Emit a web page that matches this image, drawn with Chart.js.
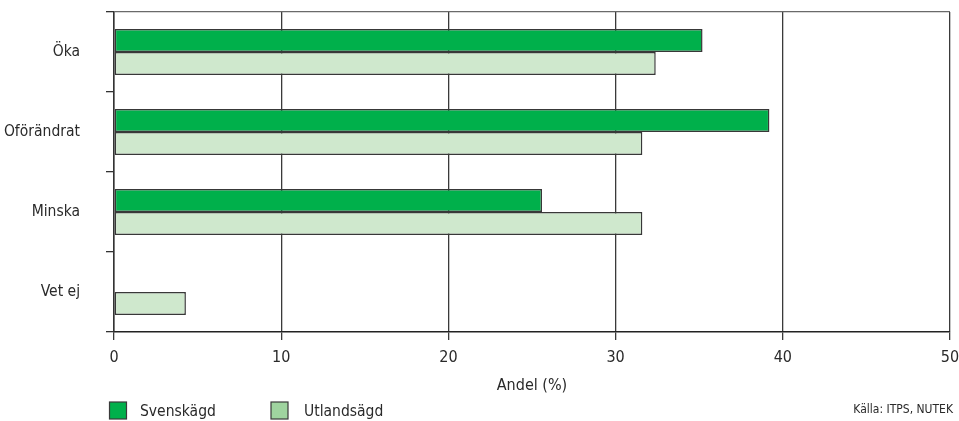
<!DOCTYPE html>
<html>
<head>
<meta charset="utf-8">
<script src="https://cdn.jsdelivr.net/npm/chart.js@4"></script>
<style>
  html, body { margin: 0; padding: 0; background: #ffffff; }
  #wrap { position: relative; width: 959px; height: 421px; }
</style>
</head>
<body>
<div id="wrap"><canvas id="c" width="959" height="421"></canvas></div>
<script>
const categories = ['Öka', 'Oförändrat', 'Minska', 'Vet ej'];
const svenskagd = [35.2, 39.2, 25.6, null];
const utlandsagd = [32.4, 31.6, 31.6, 4.3];
const seriesNames = ['Svenskägd', 'Utlandsägd'];
const xTickValues = [0, 10, 20, 30, 40, 50];
const axisTitle = 'Andel (%)';
const sourceText = 'Källa: ITPS, NUTEK';

const FONT = "'Liberation Sans Narrow', 'DejaVu Sans Condensed', 'Arial Narrow', sans-serif";
const TEXT = '#2a2a2a';
const barFills = ['#00b04b', '#cfe8cd'];
const legendFills = ['#00b04b', '#9fd49f'];

const legendPlugin = {
  id: 'customLegend',
  afterDraw(chart) {
    const ctx = chart.ctx;
    ctx.save();
    const boxes = [{ x: 109.5, tx: 140 }, { x: 271, tx: 304 }];
    ctx.font = '15.5px ' + FONT;
    ctx.textBaseline = 'middle';
    ctx.textAlign = 'left';
    seriesNames.forEach((name, i) => {
      ctx.fillStyle = legendFills[i];
      ctx.fillRect(boxes[i].x, 402, 17, 17);
      ctx.strokeStyle = '#3a3a3a';
      ctx.lineWidth = 1.2;
      ctx.strokeRect(boxes[i].x, 402, 17, 17);
      ctx.fillStyle = TEXT;
      ctx.fillText(name, boxes[i].tx, 411.5);
    });
    ctx.font = '12px ' + FONT;
    ctx.textAlign = 'right';
    ctx.fillText(sourceText, 953, 410);
    ctx.restore();
  }
};

new Chart(document.getElementById('c'), {
  type: 'bar',
  data: {
    labels: categories,
    datasets: [
      { label: seriesNames[0], data: svenskagd, backgroundColor: barFills[0] },
      { label: seriesNames[1], data: utlandsagd, backgroundColor: barFills[1] }
    ]
  },
  options: {
    indexAxis: 'y',
    responsive: false,
    animation: false,
    devicePixelRatio: 1,
    layout: { padding: { top: 12, right: 9, left: 0, bottom: 0 } },
    datasets: {
      bar: {
        categoryPercentage: 0.575,
        barPercentage: 1,
        borderColor: '#383838',
        borderWidth: 1.5,
        borderSkipped: false
      }
    },
    plugins: {
      legend: { display: false },
      tooltip: { enabled: false },
      title: { display: false }
    },
    scales: {
      x: {
        type: 'linear',
        min: xTickValues[0],
        max: xTickValues[xTickValues.length - 1],
        afterBuildTicks(scale) {
          scale.ticks = xTickValues.map(v => ({ value: v }));
        },
        afterFit(scale) {
          scale.height = 89;
          scale.paddingLeft = 0;
          scale.paddingRight = 0;
        },
        ticks: {
          color: TEXT,
          font: { family: FONT, size: 16 },
          padding: 8,
          maxRotation: 0
        },
        grid: {
          color: '#3a3a3a',
          lineWidth: 1.3,
          tickLength: 8,
          drawTicks: true
        },
        border: { display: true, color: '#222', width: 1.5 },
        title: {
          display: true,
          text: axisTitle,
          color: TEXT,
          font: { family: FONT, size: 16 },
          padding: { top: 4, bottom: 26 }
        }
      },
      y: {
        type: 'category',
        afterFit(scale) {
          scale.width = 114;
          scale.paddingTop = 0;
          scale.paddingBottom = 0;
        },
        ticks: {
          color: TEXT,
          font: { family: FONT, size: 15.5 },
          padding: 26
        },
        grid: {
          offset: true,
          drawOnChartArea: true,
          drawTicks: true,
          tickLength: 8,
          lineWidth: 1.3,
          color: (c) => (c.index === 0 ? '#6a6a6a' : 'rgba(0,0,0,0)'),
          tickColor: '#333'
        },
        border: { display: true, color: '#333', width: 1.5 }
      }
    }
  },
  plugins: [legendPlugin]
});
</script>
</body>
</html>
